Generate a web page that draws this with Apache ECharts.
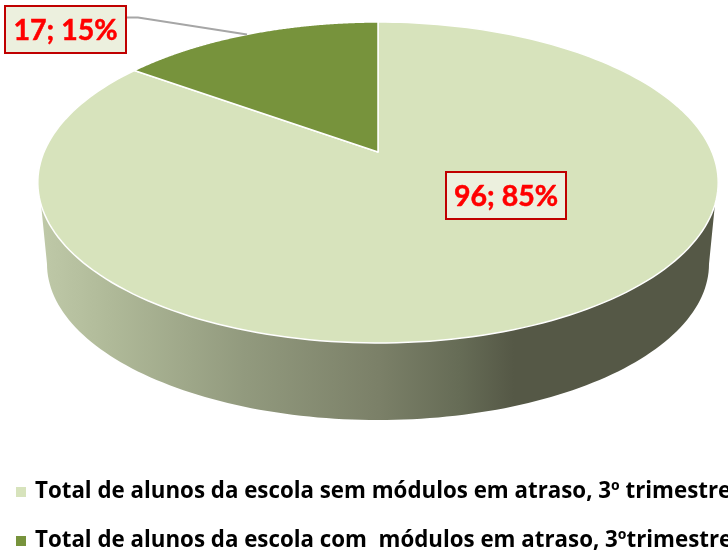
<!DOCTYPE html>
<html><head><meta charset="utf-8">
<style>html,body{margin:0;padding:0;background:#fff}#c{width:728px;height:551px}</style>
<script src="https://cdn.jsdelivr.net/npm/echarts@6/dist/echarts.min.js"></script>
</head><body><div id="c"></div>
<script>
var categories = ['Total de alunos da escola sem módulos em atraso, 3º trimestre',
                  'Total de alunos da escola com  módulos em atraso, 3ºtrimestre'];
var values = [96, 17];
var percents = [85, 15];
var sliceColors = ['#d7e3bc', '#77933c'];

var total = values.reduce(function (a, b) { return a + b; }, 0);
var cx = 378, apexY = 152, A = 334, B = 154.7, K = 0.19;
// perspective projection of the pie disc (unit circle) on to the page
function project(theta) {
  var u = Math.sin(theta), v = Math.cos(theta), d = 1 + K * v;
  return [cx + A * u / d, apexY - B * v / d];
}
function wallPoints() {
  var pts = [], i, t;
  for (i = 0; i <= 120; i++) { t = Math.PI * i / 120; pts.push([cx + 331 * Math.cos(t), 264 + 156 * Math.sin(t)]); }
  for (i = 0; i <= 120; i++) {
    t = Math.PI * i / 120;
    var y = 182 + 160.5 * Math.sin(t);
    pts.push([cx - 340 * Math.cos(t), y]);
  }
  return pts.filter(function (p, idx) { return idx <= 120 || p[1] >= 200; });
}
function sector(startV, val) {
  var a0 = startV / total * 2 * Math.PI, a1 = (startV + val) / total * 2 * Math.PI;
  var pts = [[cx, apexY]], n = 200;
  for (var i = 0; i <= n; i++) pts.push(project(a0 + (a1 - a0) * i / n));
  return pts;
}
var labelBoxes = [[446, 172, 120, 47], [5, 6, 121, 47]];
function renderer(idx) {
  return function (params, api) {
    var val = api.value(0), start = 0;
    for (var i = 0; i < idx; i++) start += values[i];
    var kids = [];
    if (idx === 0) kids.push({
      type: 'polygon', shape: { points: wallPoints() },
      style: { fill: { type: 'linear', x: 40, y: 0, x2: 717, y2: 0, global: true, colorStops: [
        { offset: 0, color: '#bfc9a8' }, { offset: 0.1, color: '#b0ba99' }, { offset: 0.3, color: '#929a7e' },
        { offset: 0.5, color: '#7b8068' }, { offset: 0.62, color: '#666c56' }, { offset: 0.7, color: '#555846' }, { offset: 1, color: '#555846' }] } }
    });
    kids.push({
      type: 'polygon', shape: { points: sector(start, val) },
      style: { fill: sliceColors[idx], stroke: '#fff', lineWidth: 1.5, lineJoin: 'round' }
    });
    return { type: 'group', children: kids };
  };
}
function labelRenderer(params, api) {
  var kids = [{
    type: 'polyline', shape: { points: [[126, 17.5], [138, 17.5], [247, 34.5]] },
    style: { fill: 'none', stroke: '#a6a6a6', lineWidth: 2 }
  }];
  values.forEach(function (v, i) {
    var b = labelBoxes[i];
    kids.push({ type: 'rect', shape: { x: b[0], y: b[1], width: b[2], height: b[3] },
      style: { fill: '#ecf0de', stroke: '#c00000', lineWidth: 2 } });
    kids.push({ type: 'text', style: { x: b[0] + b[2] / 2, y: b[1] + b[3] / 2 + 1, text: v + '; ' + percents[i] + '%',
      align: 'center', verticalAlign: 'middle', fill: '#ff0000', stroke: '#ff0000', lineWidth: 0.5, font: 'bold 28.5px Lato' } });
  });
  return { type: 'group', children: kids };
}
function legendFor(i, left, top) {
  return {
    orient: 'horizontal', left: left, top: top, itemGap: 10, itemWidth: 10, itemHeight: 10, icon: 'rect',
    padding: 0, selectedMode: false, itemStyle: { color: sliceColors[i] },
    textStyle: { fontFamily: 'Open Sans', fontWeight: 'bold', fontSize: 22.3, color: '#000', padding: [0, 0, 0, 4] },
    data: [categories[i]]
  };
}
var chart = echarts.init(document.getElementById('c'), null, { renderer: 'canvas' });
chart.setOption({
  animation: false,
  legend: [legendFor(0, 16, 481), legendFor(1, 16, 530)],
  series: [
    { type: 'custom', coordinateSystem: 'none', name: categories[0], silent: true, itemStyle: { color: sliceColors[0] }, renderItem: renderer(0), data: [[values[0]]] },
    { type: 'custom', coordinateSystem: 'none', name: categories[1], silent: true, itemStyle: { color: sliceColors[1] }, renderItem: renderer(1), data: [[values[1]]] },
    { type: 'custom', coordinateSystem: 'none', name: 'rótulos', silent: true, renderItem: labelRenderer, data: [[0]], z: 5 }
  ]
});
</script></body></html>
